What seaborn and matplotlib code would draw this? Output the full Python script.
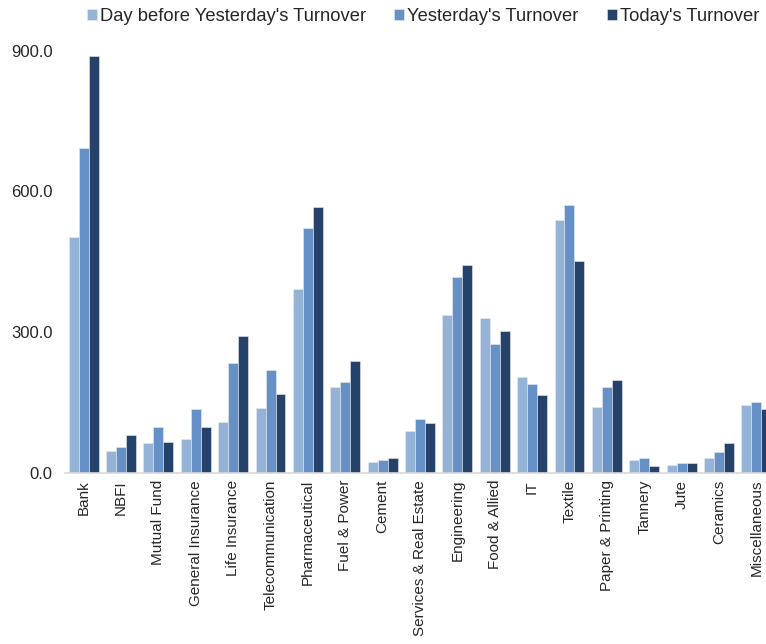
import pandas as pd
import matplotlib
matplotlib.use("Agg")
import matplotlib.pyplot as plt
import seaborn as sns

sectors = ["Bank", "NBFI", "Mutual Fund", "General Insurance", "Life Insurance",
           "Telecommunication", "Pharmaceutical", "Fuel & Power", "Cement",
           "Services & Real Estate", "Engineering", "Food & Allied", "IT",
           "Textile", "Paper & Printing", "Tannery", "Jute", "Ceramics",
           "Miscellaneous"]
day_before = [502, 47, 65, 72, 108, 139, 392, 184, 23, 90, 336, 330, 204,
              539, 140, 27, 18, 33, 145]
yesterday = [692, 55, 99, 137, 234, 219, 522, 194, 28, 115, 418, 275, 190,
             571, 184, 32, 21, 45, 151]
today = [888, 80, 66, 97, 292, 168, 567, 238, 33, 106, 444, 303, 166,
         452, 199, 15, 21, 65, 137]
series = ["Day before Yesterday's Turnover", "Yesterday's Turnover", "Today's Turnover"]
colors = ["#95B3D7", "#6591C7", "#264268"]

df = pd.DataFrame({
    "Sector": sectors * 3,
    "Turnover": day_before + yesterday + today,
    "Series": [series[0]] * len(sectors) + [series[1]] * len(sectors) + [series[2]] * len(sectors),
})

sns.set_style("white")
plt.rcParams["font.family"] = ["Liberation Sans", "DejaVu Sans"]

fig = plt.figure(figsize=(7.66, 6.44), dpi=100)
ax = fig.add_axes([65 / 766, 0.2655, 710 / 766, 0.656])

sns.barplot(data=df, x="Sector", y="Turnover", hue="Series", palette=colors,
            width=0.8, ax=ax, legend=True, saturation=1, edgecolor="#e6ecf4", linewidth=0.4)

ax.set_ylim(0, 900)
ax.set_xlim(-0.5, len(sectors) - 0.5)
ax.set_yticks([0, 300, 600, 900])
ax.set_yticklabels(["0.0", "300.0", "600.0", "900.0"], fontsize=12)
ax.tick_params(axis="x", rotation=90, labelsize=11, length=0, pad=5)
ax.tick_params(axis="y", length=0, pad=9)
ax.set_xlabel("")
ax.set_ylabel("")
for s in ["top", "right", "left"]:
    ax.spines[s].set_visible(False)
ax.spines["bottom"].set_color("#d9d9d9")
ax.spines["bottom"].set_linewidth(1.2)

# legend across the top
handles, labels = ax.get_legend_handles_labels()
ax.get_legend().remove()
fig.legend(handles, labels, loc="upper left", bbox_to_anchor=(87 / 766, 1 - 8 / 644),
           ncol=3, frameon=False, fontsize=13.2, handlelength=0.55, handleheight=0.55,
           handletextpad=0.15, columnspacing=1.55, borderpad=0, borderaxespad=0)

fig.savefig("out.png", dpi=100)
